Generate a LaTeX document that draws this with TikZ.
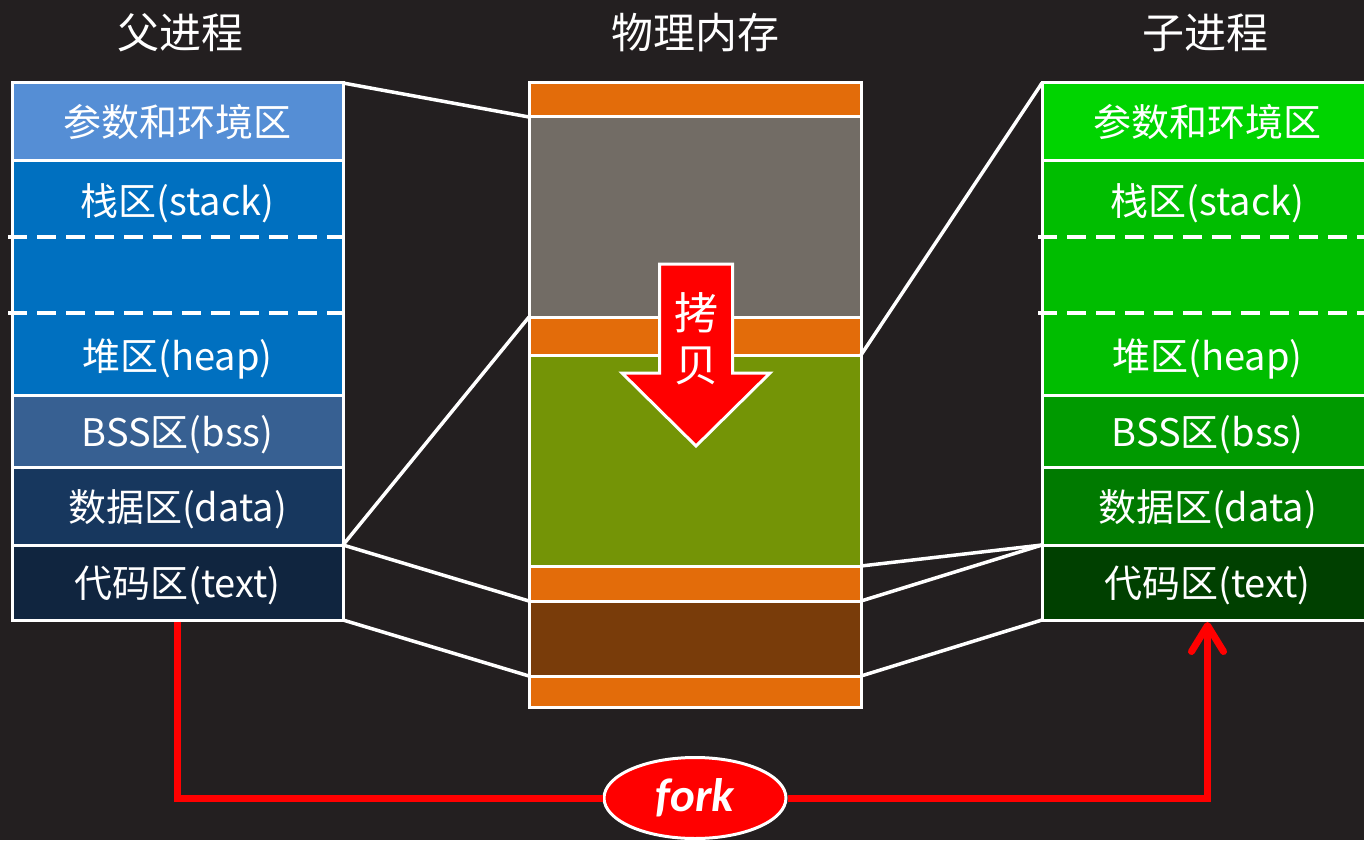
\documentclass[tikz,border=0pt]{standalone}
\usepackage{fontspec}
\setmainfont{Noto Sans CJK SC}
\newfontfamily\forkfont{Carlito}
\usepackage{tikz}
\usetikzlibrary{positioning,arrows.meta,shapes.geometric}

\definecolor{bgdark}{RGB}{35,31,32}
\definecolor{envblue}{RGB}{85,142,213}
\definecolor{stkblue}{RGB}{0,112,192}
\definecolor{bssblue}{RGB}{55,96,146}
\definecolor{datblue}{RGB}{23,55,94}
\definecolor{txtblue}{RGB}{16,37,63}
\definecolor{envgreen}{RGB}{0,212,0}
\definecolor{stkgreen}{RGB}{0,189,0}
\definecolor{bssgreen}{RGB}{0,154,0}
\definecolor{datgreen}{RGB}{0,122,0}
\definecolor{txtgreen}{RGB}{0,64,0}
\definecolor{memorange}{RGB}{227,108,10}
\definecolor{memgray}{RGB}{114,108,101}
\definecolor{memolive}{RGB}{116,148,6}
\definecolor{membrown}{RGB}{121,60,10}

\begin{document}
\begin{tikzpicture}[x=1pt,y=1pt,
  seg/.style={rectangle,draw=white,line width=3pt,minimum width=331pt,inner sep=0pt,
    outer sep=0pt,text=white,text height=32pt,text depth=2pt,font=\fontsize{38}{40}\selectfont},
  mem/.style={rectangle,draw=white,line width=3pt,minimum width=332pt,inner sep=0pt,outer sep=0pt},
  lbl/.style={text=white,inner sep=0pt,text height=32pt,text depth=2pt,font=\fontsize{38}{40}\selectfont},
  title/.style={text=white,font=\fontsize{42}{44}\selectfont},
  gap line/.style={draw=white,line width=3.5pt,dash pattern=on 19pt off 10pt},
  link/.style={draw=white,line width=3.5pt},
  fork line/.style={draw=red,line width=7pt},
  fork ell/.style={ellipse,draw=white,line width=3pt,fill=red,minimum width=182pt,minimum height=81pt,
    text=white,font=\forkfont\bfseries\itshape\fontsize{47}{47}\selectfont}]

  \useasboundingbox (0,0) rectangle (1364,-840);
  \fill[bgdark] (0,0) rectangle (1364,-840);

  % parent process
  \node[title] (pt) at (180,-33) {父进程};
  \node[seg,fill=envblue,minimum height=77pt] (p1) at (177.5,-121.5) {参数和环境区};
  \node[seg,fill=stkblue,minimum height=235pt,below=0pt of p1] (p2) {};
  \node[seg,fill=bssblue,minimum height=72pt,below=0pt of p2] (p3) {BSS区(bss)};
  \node[seg,fill=datblue,minimum height=78pt,below=0pt of p3] (p4) {数据区(data)};
  \node[seg,fill=txtblue,minimum height=75pt,below=0pt of p4] (p5) {代码区(text)};
  \node[lbl] (p2s) at ([yshift=-40pt]p2.north) {栈区(stack)};
  \node[lbl] (p2h) at ([yshift=40pt]p2.south) {堆区(heap)};
  \draw[gap line] ([xshift=-4pt,yshift=-77pt]p2.north west) -- ([yshift=-77pt]p2.north east);
  \draw[gap line] ([xshift=-4pt,yshift=82pt]p2.south west) -- ([yshift=82pt]p2.south east);

  % physical memory
  \node[title] (mt) at (695,-33) {物理内存};
  \node[mem,fill=memorange,minimum height=34pt] (m1) at (695,-100) {};
  \node[mem,fill=memgray,minimum height=200pt,below=0pt of m1] (m2) {};
  \node[mem,fill=memorange,minimum height=38pt,below=0pt of m2] (m3) {};
  \node[mem,fill=memolive,minimum height=211pt,below=0pt of m3] (m4) {};
  \node[mem,fill=memorange,minimum height=35pt,below=0pt of m4] (m5) {};
  \node[mem,fill=membrown,minimum height=75pt,below=0pt of m5] (m6) {};
  \node[mem,fill=memorange,minimum height=31pt,below=0pt of m6] (m7) {};

  % child process
  \node[title] (ct) at (1205,-33) {子进程};
  \node[seg,fill=envgreen,minimum height=77pt] (c1) at (1207.5,-121.5) {参数和环境区};
  \node[seg,fill=stkgreen,minimum height=235pt,below=0pt of c1] (c2) {};
  \node[seg,fill=bssgreen,minimum height=72pt,below=0pt of c2] (c3) {BSS区(bss)};
  \node[seg,fill=datgreen,minimum height=78pt,below=0pt of c3] (c4) {数据区(data)};
  \node[seg,fill=txtgreen,minimum height=75pt,below=0pt of c4] (c5) {代码区(text)};
  \node[lbl] (c2s) at ([yshift=-40pt]c2.north) {栈区(stack)};
  \node[lbl] (c2h) at ([yshift=40pt]c2.south) {堆区(heap)};
  \draw[gap line] ([xshift=-4pt,yshift=-77pt]c2.north west) -- ([yshift=-77pt]c2.north east);
  \draw[gap line] ([xshift=-4pt,yshift=82pt]c2.south west) -- ([yshift=82pt]c2.south east);

  % mapping lines
  \path[link] (p1.north east) edge (m2.north west)
              (p5.north east) edge (m3.north west)
                              edge (m6.north west)
              (p5.south east) edge (m6.south west)
              (c1.north west) edge (m4.north east)
              (c5.north west) edge (m4.south east)
                              edge (m6.north east)
              (c5.south west) edge (m6.south east);

  % copy arrow
  \draw[draw=white,line width=3pt,fill=red,line join=miter]
    (659.5,-264) -- (732.5,-264) -- (732.5,-373) -- (770,-373) -- (696,-446)
    -- (622,-373) -- (659.5,-373) -- cycle;
  \node[text=white,align=center,font=\fontsize{44}{52}\selectfont] (cp) at (696,-339) {拷\\贝};

  % fork
  \node[fork ell] (f) at (695,-798) {fork};
  \draw[fork line] ([yshift=-1.5pt]p5.south) |- (f.west);
  \draw[fork line,-{Straight Barb[round,length=26pt,width=32pt]}] (f.east) -| ([yshift=-2pt]c5.south);
\end{tikzpicture}
\end{document}
